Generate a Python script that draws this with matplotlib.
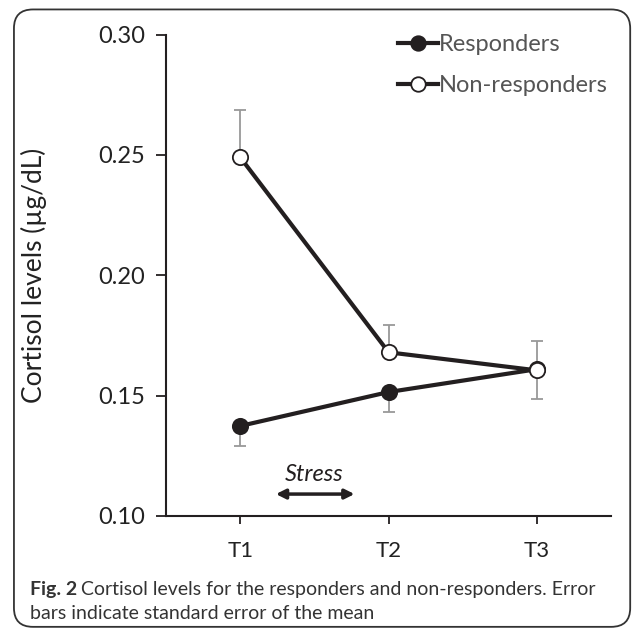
import matplotlib
matplotlib.use("Agg")
import matplotlib.pyplot as plt
from matplotlib.patches import FancyBboxPatch

# data
times = ["T1", "T2", "T3"]
resp = [0.1374, 0.1515, 0.1610]
resp_err = [0.0085, 0.0083, 0.0124]      # lower-side SEM
nonresp = [0.2490, 0.1680, 0.1605]
nonresp_err = [0.0195, 0.0114, 0.0122]   # upper-side SEM

plt.rcParams['font.family'] = ['Lato', 'DejaVu Sans']
ink = '#231f20'
grey = '#999999'

fig = plt.figure(figsize=(6.34, 6.30), dpi=100)
ax = fig.add_axes([0.262, 0.181, 0.702, 0.764])

x = [1, 2, 3]
ax.errorbar(x, resp, yerr=[resp_err, [0, 0, 0]], fmt='none', ecolor=grey,
            elinewidth=1.3, capsize=4, capthick=1.3, zorder=1)
ax.errorbar(x, nonresp, yerr=[[0, 0, 0], nonresp_err], fmt='none', ecolor=grey,
            elinewidth=1.3, capsize=4, capthick=1.3, zorder=1)
ax.plot(x, resp, '-o', color=ink, lw=3, ms=11, mfc=ink, mec=ink, mew=1.3,
        label='Responders', zorder=3)
ax.plot(x, nonresp, '-o', color=ink, lw=3, ms=11, mfc='white', mec=ink, mew=1.3,
        label='Non-responders', zorder=4)

ax.set_xlim(0.5, 3.5)
ax.set_ylim(0.10, 0.30)
ax.set_xticks(x)
ax.set_xticklabels(times)
ax.set_yticks([0.10, 0.15, 0.20, 0.25, 0.30])
ax.set_yticklabels(['0.10', '0.15', '0.20', '0.25', '0.30'])
for s in ['top', 'right']:
    ax.spines[s].set_visible(False)
for s in ['left', 'bottom']:
    ax.spines[s].set_color(ink)
    ax.spines[s].set_linewidth(1.5)
ax.tick_params(axis='y', length=7, width=1.3, color=ink, labelsize=17,
               labelcolor='#222222', pad=8)
ax.tick_params(axis='x', length=6, width=1.3, color=ink, labelsize=16,
               labelcolor='#222222', pad=12)
ax.set_ylabel('Cortisol levels (µg/dL)', fontsize=19, color='#222222', labelpad=37)

leg = ax.legend(loc='upper right', bbox_to_anchor=(1.04, 1.045), frameon=False,
                fontsize=17, handlelength=1.7, handletextpad=0.05,
                labelspacing=0.85, markerscale=0.95)
for t in leg.get_texts():
    t.set_color('#555555')

ax.text(1.5, 0.1146, 'Stress', style='italic', fontsize=17, color=ink, ha='center')
ax.annotate('', xy=(1.77, 0.1091), xytext=(1.24, 0.1091),
            arrowprops=dict(arrowstyle='<|-|>', color=ink, lw=2.5,
                            mutation_scale=14, shrinkA=0, shrinkB=0))

fig.text(0.047, 0.0635, 'Fig. 2', fontsize=14, color='#333333',
         fontweight='bold', va='center')
fig.text(0.128, 0.0635, 'Cortisol levels for the responders and non-responders. Error',
         fontsize=14, color='#333333', va='center')
fig.text(0.047, 0.0254, 'bars indicate standard error of the mean',
         fontsize=14, color='#333333', va='center')

box = FancyBboxPatch((0.022, 0.005), 0.972, 0.98, transform=fig.transFigure,
                     boxstyle='round,pad=0,rounding_size=0.03', fill=False,
                     ec='#333333', lw=1.3, clip_on=False)
fig.patches.append(box)

fig.savefig('out.png', dpi=100)
